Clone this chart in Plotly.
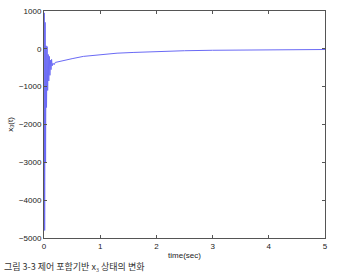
import plotly.graph_objects as go

# time samples (sec) and x3 values
t = [0.0, 0.004, 0.012, 0.02, 0.028, 0.036, 0.045, 0.055, 0.065, 0.075, 0.085,
     0.095, 0.105, 0.115, 0.125, 0.135, 0.145, 0.16, 0.18, 0.2, 0.25, 0.3,
     0.4, 0.5, 0.7, 1.0, 1.3, 1.6, 2.0, 2.5, 3.0, 3.5, 4.0, 4.5, 5.0]
x3 = [0, 950, -4800, 700, -3000, 80, -1550, 60, -1100, -150, -850, -200,
      -700, -300, -550, -280, -450, -380, -420, -360, -340, -320,
      -290, -260, -200, -150, -115, -95, -70, -50, -38, -30, -25, -22, -18]

x_ticks = [0, 1, 2, 3, 4, 5]
y_ticks = [1000, 0, -1000, -2000, -3000, -4000, -5000]
y_tick_text = ["1000", "0", "\u22121000", "\u22122000", "\u22123000", "\u22124000", "\u22125000"]

fig = go.Figure()
fig.add_trace(go.Scatter(x=t, y=x3, mode="lines",
                         line=dict(color="#6a6af5", width=1)))

axis_common = dict(showgrid=False, zeroline=False, showline=True,
                   linecolor="#555555", linewidth=1, mirror="ticks",
                   ticks="inside", ticklen=3, tickcolor="#555555",
                   tickfont=dict(family="Liberation Sans, Arial", size=8, color="#222"))

fig.update_layout(
    width=352, height=277,
    margin=dict(l=44, r=27, t=7, b=39),
    paper_bgcolor="white", plot_bgcolor="white",
    showlegend=False,
    xaxis=dict(range=[0, 5], tickvals=x_ticks,
               title=dict(text="time(sec)", standoff=2,
                          font=dict(family="Liberation Sans, Arial", size=8, color="#222")),
               **axis_common),
    yaxis=dict(range=[-5000, 1000], tickvals=y_ticks, ticktext=y_tick_text,
               title=dict(text="x<sub>3</sub>(t)", standoff=4,
                          font=dict(family="Liberation Sans, Arial", size=8, color="#222")),
               **axis_common),
    annotations=[dict(text="\uadf8\ub9bc 3-3 \uc81c\uc5b4 \ud3ec\ud568\uae30\ubc18 x\u2083 \uc0c1\ud0dc\uc758 \ubcc0\ud654",
                      xref="paper", yref="paper", x=-42/281, y=-(276-238)/231,
                      xanchor="left", yanchor="bottom", showarrow=False,
                      font=dict(family="Noto Sans CJK KR", size=9, color="#333"))],
)

fig.write_html("out.html")
